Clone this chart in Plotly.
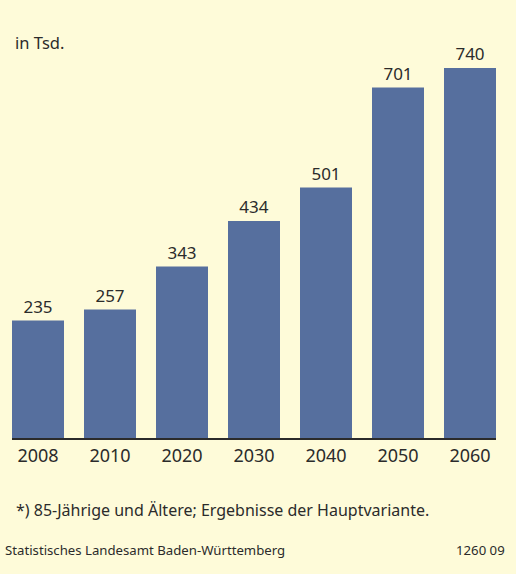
import plotly.graph_objects as go

years = ["2008", "2010", "2020", "2030", "2040", "2050", "2060"]
values = [235, 257, 343, 434, 501, 701, 740]

BG = "#FEFBD9"
BAR = "#566F9E"
TXT = "#2b2b2b"
FONT = "Noto Sans"

fig = go.Figure()
fig.add_trace(go.Bar(
    x=list(range(len(years))), y=values,
    marker=dict(color=BAR, line=dict(width=0)),
    text=[str(v) for v in values], textposition="outside",
    textfont=dict(family=FONT, size=17, color=TXT),
    cliponaxis=False, width=0.7222,
))

fig.update_layout(
    width=516, height=574,
    margin=dict(l=12, r=20, t=58, b=136),
    paper_bgcolor=BG, plot_bgcolor=BG,
    showlegend=False,
    font=dict(family=FONT, color=TXT),
    xaxis=dict(
        tickmode="array", tickvals=list(range(len(years))), ticktext=years,
        range=[-0.3611, 6.3611], showgrid=False, zeroline=False,
        showline=True, linecolor="#2b2b2b", linewidth=2,
        ticks="", tickfont=dict(family=FONT, size=18, color=TXT),
        fixedrange=True,
    ),
    yaxis=dict(range=[0, 760], visible=False, fixedrange=True),
    annotations=[
        dict(text="in Tsd.", xref="paper", yref="paper", x=0, y=1, xshift=1, yshift=2,
             xanchor="left", yanchor="bottom", showarrow=False,
             font=dict(family=FONT, size=16.5, color=TXT)),
        dict(text="*) 85-Jährige und Ältere; Ergebnisse der Hauptvariante.",
             xref="paper", yref="paper", x=0, y=0, xshift=2, yshift=-72,
             xanchor="left", yanchor="middle", showarrow=False,
             font=dict(family=FONT, size=16, color=TXT)),
        dict(text="Statistisches Landesamt Baden-Württemberg",
             xref="paper", yref="paper", x=0, y=0, xshift=-9, yshift=-112,
             xanchor="left", yanchor="middle", showarrow=False,
             font=dict(family=FONT, size=13.2, color=TXT)),
        dict(text="1260 09",
             xref="paper", yref="paper", x=1, y=0, xshift=11, yshift=-112,
             xanchor="right", yanchor="middle", showarrow=False,
             font=dict(family=FONT, size=13.2, color=TXT)),
    ],
)

fig.write_html(
    "out.html",
    config={"displayModeBar": False},
    post_script="document.body.style.margin='0';document.body.style.background='" + BG + "';",
)
